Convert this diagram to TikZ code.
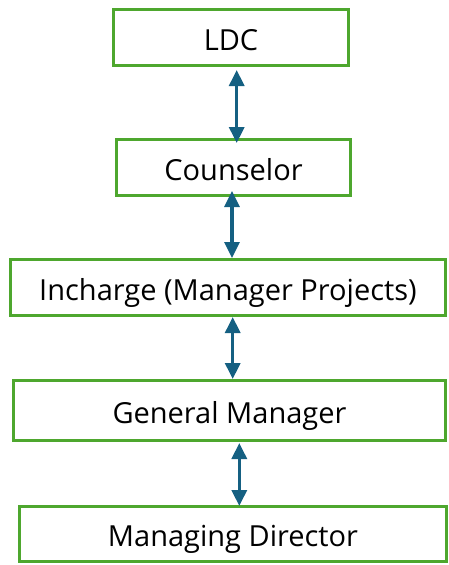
\documentclass[tikz,border=0pt]{standalone}
\usepackage{fontspec}
\setmainfont{Open Sans}
\usetikzlibrary{arrows.meta}
\definecolor{boxgreen}{HTML}{4EA72E}
\definecolor{arrblue}{HTML}{156082}
\begin{document}
\begin{tikzpicture}[x=1pt,y=-1pt,
  box/.style={draw=boxgreen,line width=3pt,fill=white,inner sep=0pt,
    text height=25pt,text depth=0pt,
    font=\fontsize{29}{33}\selectfont,text=black},
  arr/.style={draw=arrblue,line width=3.2pt,
    {Triangle[width=15pt,length=16pt]}-{Triangle[width=15pt,length=16pt]}}]
\useasboundingbox (0,0) rectangle (448,565);
\node[box,minimum width=235pt,minimum height=56pt] (ldc) at (231,37.5) {LDC};
\node[box,minimum width=234pt,minimum height=56pt] (cou) at (233.5,167.5) {Counselor};
\node[box,minimum width=435pt,minimum height=56pt] (inc) at (228,287.5) {Incharge (Manager Projects)};
\node[box,minimum width=432pt,minimum height=60pt] (gm) at (229.5,410.5) {General Manager};
\node[box,minimum width=427pt,minimum height=55pt] (md) at (233,534) {Managing Director};
\coordinate (a1t) at (236.7,70);
\coordinate (a1b) at (236.7,143);
\coordinate (a2t) at (232,191);
\coordinate (a2b) at (232,258);
\coordinate (a3t) at (232.7,317);
\coordinate (a3b) at (232.7,379);
\coordinate (a4t) at (239.3,443);
\coordinate (a4b) at (239.3,506);
\draw[arr] (a1t) -- (a1b);
\draw[arr] (a2t) -- (a2b);
\draw[arr] (a3t) -- (a3b);
\draw[arr] (a4t) -- (a4b);
\end{tikzpicture}
\end{document}
